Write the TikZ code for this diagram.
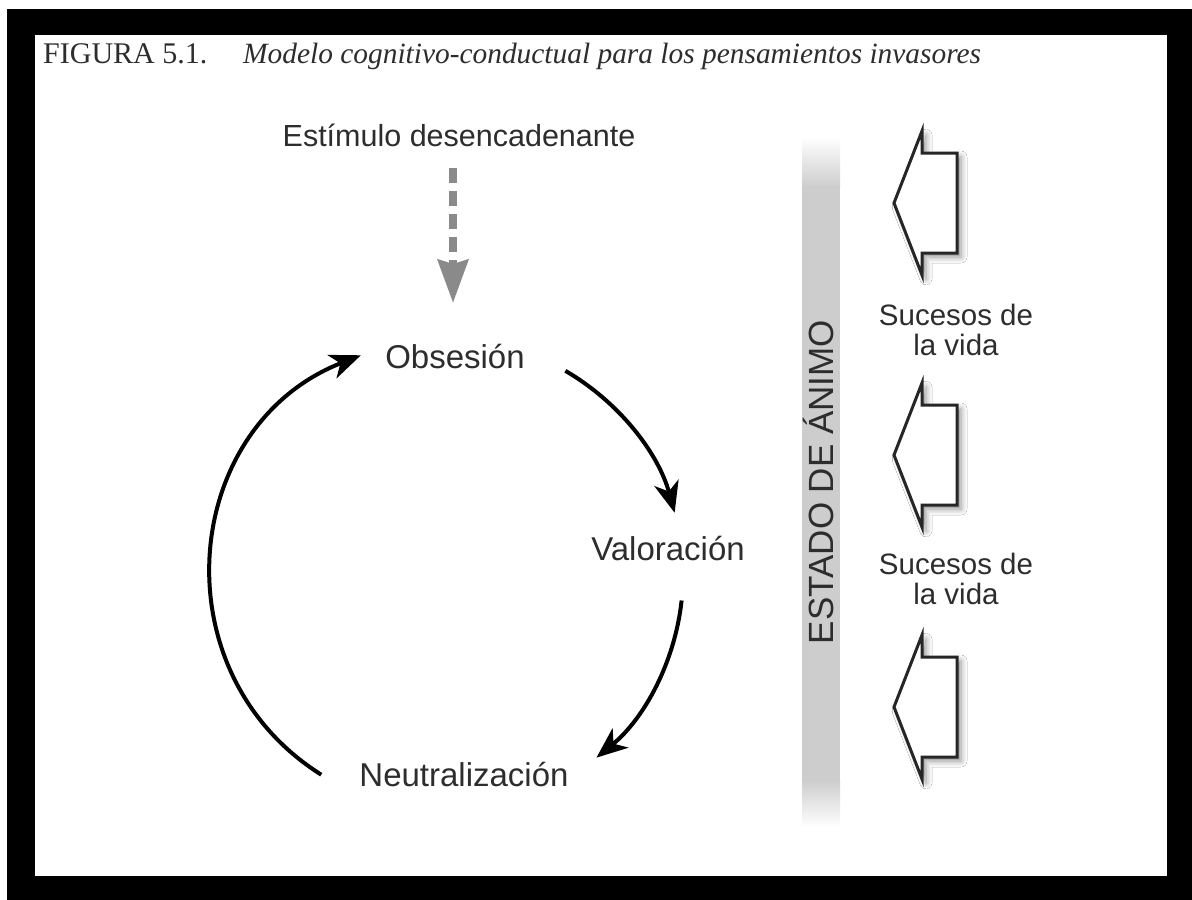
\documentclass[tikz,border=0pt]{standalone}
\usepackage{fontspec}
\newfontfamily\diagfont{Liberation Sans}
\newfontfamily\titlefont{Liberation Serif}
\usetikzlibrary{arrows.meta,shadows.blur}
\definecolor{txt}{RGB}{45,45,45}
\definecolor{bargray}{RGB}{205,205,205}
\definecolor{dashgray}{RGB}{138,138,138}
\begin{document}
\begin{tikzpicture}[x=1pt,y=1pt,
  lbl/.style={font=\diagfont\fontsize{33}{38}\selectfont, text=txt, inner sep=0pt, anchor=base},
  lifelbl/.style={font=\diagfont\fontsize{29.5}{30}\selectfont, text=txt, inner sep=0pt, align=center, anchor=base},
  cyc/.style={line width=4pt, draw=black, -{Stealth[length=31pt,width=25pt,inset=9pt]}},
  trig/.style={draw=dashgray, line width=8pt, dash pattern=on 15pt off 8pt, -{Stealth[length=43pt,width=30pt,inset=4pt,fill=dashgray]}},
  lifearrow/.style={draw=black!85, line width=3pt, fill=white, line join=miter,
    blur shadow={shadow xshift=4pt,shadow yshift=-4pt,shadow blur radius=6pt,shadow opacity=45}},
]
\useasboundingbox (0,0) rectangle (1192,-900);
\fill[white] (0,0) rectangle (1192,-900);
\fill[black] (7,-9) rectangle (1192,-900);
\fill[white] (35,-35) rectangle (1167,-876);

% title
\node[anchor=base west, inner sep=0pt, text=txt, font=\titlefont\fontsize{30}{32}\selectfont] (fig) at (43,-63) {FIGURA 5.1.};
\node[anchor=base west, inner sep=0pt, text=txt, font=\titlefont\itshape\fontsize{29.4}{32}\selectfont] (cap) at (243,-63) {Modelo cognitivo-conductual para los pensamientos invasores};

% trigger
\node[lbl, font=\diagfont\fontsize{30.5}{34}\selectfont] (estim) at (459,-146) {Estímulo desencadenante};
\coordinate (d1) at (453,-168);
\coordinate (d2) at (453,-303);
\draw[trig] (d1) -- (d2);

% cycle labels
\node[lbl] (obs) at (455,-368) {Obsesión};
\node[lbl] (val) at (668,-560) {Valoración};
\node[lbl] (neu) at (464,-786) {Neutralización};

% cycle arrows
\coordinate (ctr) at (447,-575);
\coordinate (A1) at ([shift={(59.9:236)}]ctr);
\coordinate (A2) at ([shift={(15.3:236)}]ctr);
\coordinate (B1) at ([shift={(-6.2:236)}]ctr);
\coordinate (B2) at ([shift={(-50.7:236)}]ctr);
\coordinate (C1) at ([shift={(-122.2:236)}]ctr);
\coordinate (C2) at ([shift={(111.4:236)}]ctr);
\draw[cyc] (A1) to[out=-30.1, in=105.3, looseness=0.885] (A2);
\draw[cyc] (B1) to[out=-96.2, in=39.3, looseness=0.885] (B2);
\draw[cyc] (C1) to[out=147.8, in=201.4, looseness=1.174] (C2);

% mood bar
\shade[top color=white, bottom color=bargray] (802,-137) rectangle (840,-187);
\fill[bargray] (802,-186) rectangle (840,-781);
\shade[top color=bargray, bottom color=white] (802,-780) rectangle (840,-827);
\node[rotate=90, anchor=base, inner sep=0pt, text=txt, font=\diagfont\fontsize{35}{38}\selectfont] (mood) at (833,-482) {ESTADO DE ÁNIMO};

% life events arrows
\foreach \yy in {203,455,707}{
  \draw[lifearrow] (894,-\yy) -- (922,{-\yy+72}) -- (922,{-\yy+50}) -- (957,{-\yy+50})
    -- (957,{-\yy-50}) -- (922,{-\yy-50}) -- (922,{-\yy-72}) -- cycle;
}
\node[lifelbl] (ev1) at (956,-355) {Sucesos de\\la vida};
\node[lifelbl] (ev2) at (956,-604) {Sucesos de\\la vida};
\end{tikzpicture}
\end{document}
